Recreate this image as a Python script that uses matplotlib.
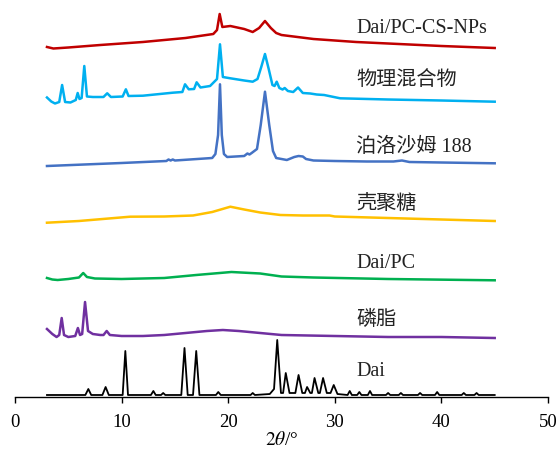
import matplotlib
matplotlib.use("Agg")
import matplotlib.pyplot as plt

plt.rcParams['font.family'] = ['Liberation Serif', 'Noto Sans CJK SC']
plt.rcParams['mathtext.fontset'] = 'stix'

# XRD patterns, stacked (2theta, intensity + offset)
dai = [(3, 2), (6.6, 2), (6.88, 8), (7.15, 2), (8.2, 2), (8.5, 10), (8.8, 2),
       (10.1, 2), (10.35, 46), (10.6, 2), (12.75, 2), (12.98, 6), (13.2, 2),
       (13.7, 2), (13.9, 4), (14.1, 2), (15.6, 2), (15.9, 49), (16.2, 2),
       (16.7, 2), (17.0, 46), (17.3, 2), (18.85, 2), (19.07, 5), (19.3, 2),
       (22.1, 2), (22.3, 4), (22.5, 2), (23.9, 3), (24.3, 8), (24.6, 57),
       (24.95, 4), (25.15, 4), (25.4, 24), (25.75, 4), (26.3, 4), (26.6, 22),
       (26.95, 4), (27.2, 4), (27.4, 10), (27.7, 4), (27.85, 4), (28.1, 19),
       (28.45, 4), (28.6, 4), (28.9, 19), (29.25, 4), (29.6, 4), (29.9, 12),
       (30.25, 3), (31.2, 2), (31.4, 6), (31.6, 2), (32.1, 2), (32.3, 5),
       (32.5, 2), (33.1, 2), (33.3, 6), (33.5, 2), (34.8, 2), (35.0, 4),
       (35.2, 2), (36.0, 2), (36.2, 4), (36.4, 2), (37.8, 2), (38.0, 4),
       (38.2, 2), (39.4, 2), (39.6, 5), (39.8, 2), (41.9, 2), (42.1, 4),
       (42.3, 2), (43.1, 2), (43.3, 4), (43.5, 2), (45, 2)]

lecithin = [(3, 68), (3.5, 63), (3.9, 60), (4.15, 62), (4.38, 79), (4.6, 62),
            (5.0, 60), (5.65, 61), (5.9, 69), (6.1, 62), (6.3, 63), (6.57, 95),
            (6.85, 66), (7.3, 63), (8.0, 62), (8.3, 62), (8.6, 66), (8.9, 62),
            (10, 61), (12, 61), (14, 62), (16, 64), (18, 66), (19.5, 67),
            (21, 66), (23, 64), (25, 62), (30, 61), (35, 60), (40, 60), (45, 59)]

dai_pc = [(3, 119), (3.5, 117.5), (4, 117), (5, 118), (6.0, 119.5), (6.4, 124),
          (6.75, 120), (7.5, 118.5), (10, 118), (14, 119), (17, 122),
          (20.3, 125), (23, 123.5), (25, 120.5), (28, 119.5), (35, 118),
          (45, 116.7)]

chitosan = [(3, 174.3), (6, 176), (10.8, 180.3), (14, 180.5), (16.7, 181.5),
            (18.5, 185), (20.2, 190.3), (21.5, 187.5), (23, 184.5),
            (24.9, 182), (27, 181.5), (29.5, 181.5), (30, 180.5), (35, 179),
            (40, 177.5), (45, 176)]

poloxamer = [(3, 231), (10, 234), (14.2, 236), (14.4, 237.5), (14.6, 236.5),
             (14.8, 237.5), (15.0, 236.5), (18.5, 239), (18.8, 243),
             (19.05, 262), (19.23, 312.7), (19.4, 262), (19.6, 243),
             (19.9, 240), (21.5, 241), (21.8, 243.5), (22.0, 242.5),
             (22.2, 244), (22.7, 248), (23.05, 272), (23.45, 305.3),
             (23.85, 272), (24.2, 246), (24.5, 239), (25.5, 237), (26.2, 240),
             (26.6, 241), (27.0, 240.5), (27.3, 238), (28, 236.5), (30, 236),
             (33, 235.5), (35.5, 235.5), (36.3, 236.5), (37, 235),
             (40, 234.5), (45, 233.7)]

physical_mix = [(3, 299.5), (3.4, 295.5), (3.75, 293.5), (4.15, 295),
                (4.42, 312), (4.7, 295), (5.2, 294.5), (5.7, 297),
                (5.88, 304), (6.05, 298), (6.25, 299), (6.5, 331),
                (6.75, 300.5), (7.3, 300), (8.3, 300), (8.65, 303.7),
                (9.0, 300), (10.1, 300.5), (10.4, 307.7), (10.65, 301),
                (12, 301.3), (14.8, 304.3), (15.7, 305), (15.95, 312.7),
                (16.3, 307.7), (16.8, 308), (17.04, 314.7), (17.4, 309.5),
                (18.3, 311), (18.95, 318), (19.23, 352.7), (19.5, 320),
                (20.2, 318.7), (21.5, 316.5), (22.3, 315.3), (22.75, 318),
                (23.1, 330), (23.45, 343), (23.8, 328), (24.15, 312),
                (24.35, 311), (24.55, 315.3), (24.8, 309), (25.1, 307.5),
                (25.3, 309), (25.6, 306), (26.1, 305), (26.55, 309.5),
                (27.0, 304), (27.7, 303.5), (28.3, 302.5), (29, 302),
                (30.5, 298.7), (35, 297.5), (40, 296.5), (45, 295.3)]

nps = [(3, 350), (3.6, 348.5), (5, 349.5), (8, 352), (12, 355), (16, 359),
       (18.6, 363), (18.95, 367), (19.2, 383), (19.45, 370), (20.2, 371),
       (21.5, 368), (22.3, 365), (22.9, 369), (23.45, 376), (24.0, 369),
       (24.5, 364), (25, 362), (28, 358), (32, 355), (36, 353), (40, 351),
       (45, 349)]

series = [dai, lecithin, dai_pc, chitosan, poloxamer, physical_mix, nps]
colors = ['black', '#7030A0', '#00B050', '#FFC000', '#4472C4', '#00B0F0', '#C00000']
labels = ['Dai', '磷脂', 'Dai/PC', '壳聚糖', '泊洛沙姆 188', '物理混合物', 'Dai/PC-CS-NPs']
label_y = [25, 77, 133, 193, 250, 317, 369]

fig = plt.figure(figsize=(5.59, 4.53), dpi=100)
ax = fig.add_axes([15 / 559, 56 / 453, 533 / 559, 392 / 453])

for data, c in zip(series, colors):
    xs, ys = zip(*data)
    lw = 1.3 if c == 'black' else 1.8
    ax.plot(xs, ys, color=c, lw=lw, solid_joinstyle='round')

for lab, y in zip(labels, label_y):
    ax.text(32.0, y, lab, fontsize=14.5, va='center', ha='left', color='#222222')

ax.set_xlim(0, 50)
ax.set_ylim(0, 392)
ax.set_xticks(range(0, 51, 10))
ax.set_yticks([])
for s in ['top', 'right', 'left']:
    ax.spines[s].set_visible(False)
ax.spines['bottom'].set_linewidth(1.0)
ax.tick_params(axis='x', direction='out', length=4, width=1.0, labelsize=13.5, pad=8)
ax.set_xlabel(r'$\mathit{2}\theta$/°', fontsize=14, labelpad=0)

fig.savefig('out.png', dpi=100)
